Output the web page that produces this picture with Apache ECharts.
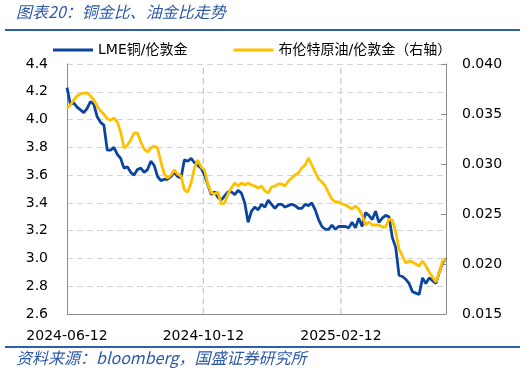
<!DOCTYPE html>
<html>
<head>
<meta charset="utf-8">
<script src="https://cdn.jsdelivr.net/npm/echarts@6/dist/echarts.min.js"></script>
<style>
html,body{margin:0;padding:0;background:#fff;}
#c{width:525px;height:375px;}
</style>
</head>
<body>
<div id="c"></div>
<script>
const titleText = '图表20：铜金比、油金比走势';
const sourceText = '资料来源：bloomberg，国盛证券研究所';
const seriesNames = ['LME铜/伦敦金', '布伦特原油/伦敦金（右轴）'];
const xLabelDates = ['2024-06-12', '2024-10-12', '2025-02-12'];
const xRange = ['2024-06-12', '2025-05-17'];
const leftRange = [2.6, 4.4, 0.2];
const rightRange = [0.015, 0.040, 0.005];

const dates = [
'2024-06-12','2024-06-15','2024-06-18','2024-06-21','2024-06-24','2024-06-27','2024-06-30','2024-07-03','2024-07-06','2024-07-09',
'2024-07-12','2024-07-15','2024-07-18','2024-07-21','2024-07-24','2024-07-27','2024-07-30','2024-08-02','2024-08-05','2024-08-08',
'2024-08-11','2024-08-14','2024-08-17','2024-08-20','2024-08-23','2024-08-26','2024-08-29','2024-09-01','2024-09-04','2024-09-07',
'2024-09-10','2024-09-13','2024-09-16','2024-09-19','2024-09-22','2024-09-25','2024-09-28','2024-10-01','2024-10-04','2024-10-07',
'2024-10-10','2024-10-13','2024-10-16','2024-10-19','2024-10-22','2024-10-25','2024-10-28','2024-10-31','2024-11-03','2024-11-06',
'2024-11-09','2024-11-12','2024-11-15','2024-11-18','2024-11-21','2024-11-24','2024-11-27','2024-11-30','2024-12-03','2024-12-06',
'2024-12-09','2024-12-12','2024-12-15','2024-12-18','2024-12-21','2024-12-24','2024-12-27','2024-12-30','2025-01-02','2025-01-05',
'2025-01-08','2025-01-11','2025-01-14','2025-01-17','2025-01-20','2025-01-23','2025-01-26','2025-01-29','2025-02-01','2025-02-04',
'2025-02-07','2025-02-10','2025-02-13','2025-02-16','2025-02-19','2025-02-22','2025-02-25','2025-02-28','2025-03-03','2025-03-06',
'2025-03-09','2025-03-12','2025-03-15','2025-03-18','2025-03-21','2025-03-24','2025-03-27','2025-03-30','2025-04-02','2025-04-05',
'2025-04-08','2025-04-11','2025-04-14','2025-04-17','2025-04-20','2025-04-23','2025-04-26','2025-04-29','2025-05-02','2025-05-05',
'2025-05-08','2025-05-11','2025-05-14','2025-05-17'
];

const copperGold = [
4.23,4.11,4.12,4.09,4.07,4.05,4.08,4.13,4.11,4.02,
3.98,3.96,3.78,3.78,3.80,3.75,3.72,3.65,3.66,3.62,
3.60,3.64,3.65,3.62,3.64,3.70,3.67,3.59,3.56,3.57,
3.57,3.59,3.62,3.59,3.58,3.71,3.70,3.72,3.69,3.67,
3.65,3.60,3.53,3.46,3.48,3.44,3.42,3.45,3.48,3.48,
3.46,3.49,3.47,3.40,3.26,3.34,3.37,3.35,3.39,3.37,
3.42,3.39,3.36,3.39,3.39,3.37,3.38,3.39,3.38,3.36,
3.36,3.39,3.38,3.40,3.35,3.28,3.23,3.21,3.21,3.24,
3.21,3.23,3.23,3.23,3.22,3.26,3.22,3.29,3.23,3.33,
3.31,3.28,3.34,3.26,3.29,3.31,3.30,3.15,3.08,2.88,
2.87,2.85,2.82,2.76,2.75,2.74,2.86,2.82,2.86,2.84,
2.82,2.90,2.97,3.00
];

const oilGold = [
0.0356,0.0359,0.0364,0.0368,0.0370,0.0371,0.0371,0.0368,0.0364,0.0358,
0.0353,0.0350,0.0345,0.0344,0.0346,0.0342,0.0332,0.0316,0.0319,0.0324,
0.0331,0.0331,0.0322,0.0315,0.0312,0.0316,0.0318,0.0316,0.0302,0.0290,
0.0286,0.0289,0.0294,0.0290,0.0288,0.0274,0.0272,0.0281,0.0296,0.0304,
0.0297,0.0294,0.0280,0.0271,0.0270,0.0272,0.0260,0.0261,0.0270,0.0276,
0.0281,0.0278,0.0281,0.0279,0.0281,0.0279,0.0278,0.0276,0.0278,0.0273,
0.0271,0.0277,0.0278,0.0280,0.0280,0.0278,0.0283,0.0286,0.0289,0.0291,
0.0296,0.0299,0.0306,0.0299,0.0292,0.0285,0.0282,0.0278,0.0271,0.0265,
0.0262,0.0262,0.0260,0.0259,0.0257,0.0255,0.0258,0.0255,0.0249,0.0239,
0.0242,0.0239,0.0239,0.0239,0.0237,0.0237,0.0245,0.0244,0.0232,0.0215,
0.0208,0.0201,0.0203,0.0202,0.0200,0.0198,0.0203,0.0198,0.0192,0.0187,
0.0182,0.0192,0.0203,0.0205
];

function ts(s) { const p = s.split('-').map(Number); return Date.UTC(p[0], p[1] - 1, p[2]); }
function fmtDate(v) {
  const d = new Date(v);
  const mm = String(d.getUTCMonth() + 1).padStart(2, '0');
  const dd = String(d.getUTCDate()).padStart(2, '0');
  return d.getUTCFullYear() + '-' + mm + '-' + dd;
}
const blue = '#0B45A0';
const gold = '#FFC000';
const axisGray = '#8C8C8C';
const gridGray = '#D4D4D4';
const vGridGray = '#C8C8C8';
const numFont = 'DejaVu Sans';
const ruleBlue = '#2E5FAE';

// vertical dashed grid lines at the labelled dates (except the first, which is the y axis)
const vGridSeries = xLabelDates.slice(1).map((d, i) => ({
  name: 'vgrid' + i, type: 'line', z: 1, silent: true, showSymbol: false, symbol: 'none',
  yAxisIndex: 0, clip: false,
  data: [[ts(d), leftRange[0]], [ts(d), leftRange[1]]],
  lineStyle: {color: vGridGray, type: [6, 4], width: 1.2},
  emphasis: {disabled: true}
}));

const chart = echarts.init(document.getElementById('c'), null, {renderer: 'canvas'});
chart.setOption({
  animation: false,
  backgroundColor: '#fff',
  grid: {left: 67, right: 79, top: 64, bottom: 61, containLabel: false},
  graphic: [
    {type: 'text', left: 16, top: 4, style: {text: titleText, fill: '#2C5AA8', font: 'italic 16px "Noto Sans CJK SC"'}},
    {type: 'rect', shape: {x: 5, y: 29, width: 515, height: 2}, style: {fill: ruleBlue}},
    {type: 'rect', shape: {x: 5, y: 346, width: 515, height: 2}, style: {fill: ruleBlue}},
    {type: 'text', left: 16, top: 350, style: {text: sourceText, fill: '#2C5AA8', font: 'italic 16px "Noto Sans CJK SC"'}}
  ],
  legend: {
    data: seriesNames,
    left: 48, top: 38,
    icon: 'rect', itemWidth: 40, itemHeight: 3, itemGap: 46,
    textStyle: {fontFamily: numFont + ', "Noto Sans CJK SC"', fontSize: 14, color: '#000'}
  },
  xAxis: {
    type: 'value',
    min: ts(xRange[0]), max: ts(xRange[1]),
    axisLine: {show: true, lineStyle: {color: axisGray, width: 1}},
    axisTick: {show: false},
    splitLine: {show: false},
    axisLabel: {
      customValues: xLabelDates.map(ts),
      formatter: v => fmtDate(v),
      fontFamily: numFont, fontSize: 14, color: '#000', margin: 15,
      showMinLabel: true, hideOverlap: false
    }
  },
  yAxis: [
    {
      type: 'value', min: leftRange[0], max: leftRange[1], interval: leftRange[2],
      axisLine: {show: true, lineStyle: {color: axisGray, width: 1}},
      axisTick: {show: false},
      splitLine: {show: true, lineStyle: {color: gridGray, type: [6, 4], width: 1}},
      axisLabel: {formatter: v => v.toFixed(1), fontFamily: numFont, fontSize: 14, color: '#000', margin: 19}
    },
    {
      type: 'value', min: rightRange[0], max: rightRange[1], interval: rightRange[2],
      position: 'right',
      axisLine: {show: true, lineStyle: {color: axisGray, width: 1}},
      axisTick: {show: true, inside: true, length: 5, lineStyle: {color: axisGray}},
      splitLine: {show: false},
      axisLabel: {formatter: v => v.toFixed(3), fontFamily: numFont, fontSize: 14, color: '#000', margin: 16}
    }
  ],
  series: vGridSeries.concat([
    {
      name: seriesNames[1], type: 'line', yAxisIndex: 1, showSymbol: false, z: 3,
      data: dates.map((d, i) => [ts(d), oilGold[i]]),
      lineStyle: {color: gold, width: 2.8}, itemStyle: {color: gold}
    },
    {
      name: seriesNames[0], type: 'line', yAxisIndex: 0, showSymbol: false, z: 2,
      data: dates.map((d, i) => [ts(d), copperGold[i]]),
      lineStyle: {color: blue, width: 2.8}, itemStyle: {color: blue}
    }
  ])
});
</script>
</body>
</html>
